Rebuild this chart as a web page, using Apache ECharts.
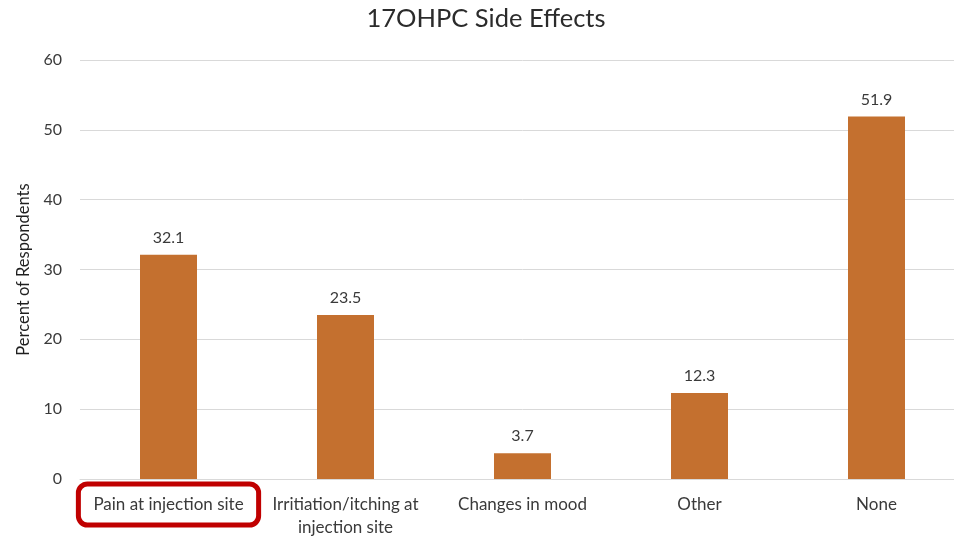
<!DOCTYPE html>
<html><head><meta charset="utf-8">
<script src="https://cdn.jsdelivr.net/npm/echarts@6/dist/echarts.min.js"></script>
<style>html,body{margin:0;padding:0;background:#fff;overflow:hidden}#c{width:975px;height:539px}</style>
</head><body><div id="c"></div>
<script>
const categories = ["Pain at injection site", "Irritiation/itching at\ninjection site", "Changes in mood", "Other", "None"];
const values = [32.1, 23.5, 3.7, 12.3, 51.9];
const yTicks = [0, 10, 20, 30, 40, 50, 60];

const chart = echarts.init(document.getElementById('c'));
const F = 'Lato, "Open Sans", sans-serif';
chart.setOption({
  animation: false,
  title: {
    text: '17OHPC Side Effects', left: 481, textAlign: 'center', top: 1,
    textStyle: {fontFamily: F, fontSize: 25.5, fontWeight: 'normal', color: '#2b2b2b'}
  },
  grid: {left: 80, top: 60, width: 885, bottom: 59},
  xAxis: {
    type: 'category', data: categories,
    axisLine: {lineStyle: {color: '#d9d9d9', width: 1}},
    axisTick: {show: false},
    axisLabel: {
      interval: 0, margin: 14, fontFamily: F, fontSize: 17, color: '#3a3a3a', lineHeight: 23,
      formatter: (v, i) => i === 0 ? '{hl|' + v + '}' : v,
      rich: {hl: {fontFamily: F, fontSize: 17, color: '#3a3a3a', borderColor: '#C00000', borderWidth: 5, borderRadius: 9, padding: [12, 15, 12, 15]}}
    }
  },
  yAxis: {
    type: 'value', min: yTicks[0], max: yTicks[yTicks.length - 1], interval: 10,
    name: 'Percent of Respondents', nameLocation: 'middle', nameGap: 44,
    nameTextStyle: {fontFamily: F, fontSize: 16.5, color: '#1f1f1f'},
    axisLine: {show: false}, axisTick: {show: false},
    axisLabel: {fontFamily: F, fontSize: 16, color: '#3a3a3a', margin: 18},
    splitLine: {lineStyle: {color: '#d9d9d9', width: 1}}
  },
  series: [{
    type: 'bar', data: values, barWidth: 57,
    itemStyle: {color: '#C4702F'},
    label: {show: true, position: 'top', distance: 9, fontFamily: F, fontSize: 16, color: '#3a3a3a'}
  }]
});
</script></body></html>
